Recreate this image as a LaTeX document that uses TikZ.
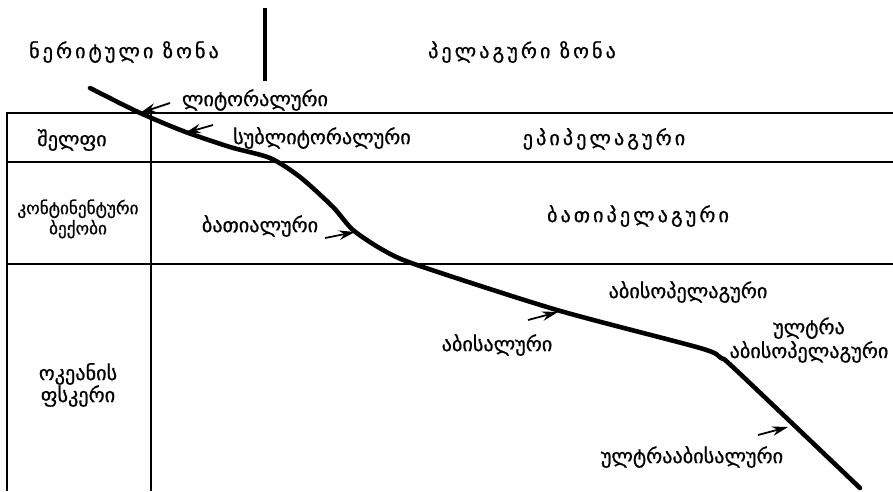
\documentclass[tikz,border=0pt]{standalone}
\usepackage{fontspec}
\newfontfamily\geofont[FakeBold=0.8]{DejaVu Sans}
\newfontfamily\geospaced[LetterSpace=15,FakeBold=0.8]{DejaVu Sans}
\usetikzlibrary{arrows.meta,positioning}

\begin{document}
\begin{tikzpicture}[
    x=0.2mm, y=-0.2mm,
    font=\geofont\fontsize{11.5}{12.5}\selectfont,
    grid/.style={line width=1.6pt},
    seafloor/.style={line width=2.6pt, line cap=round, line join=round},
    pointer/.style={-{Stealth[length=3.2mm,width=1.9mm]}, line width=1pt},
    lbl/.style={inner sep=0pt, align=center},
    wide/.style={lbl, font=\geospaced\fontsize{11.5}{12.5}\selectfont}
]
\useasboundingbox (0,0) rectangle (893,491);

\draw[grid] (893,113) -- (7,113) -- (7,491);
\draw[grid] (151,113) -- (151,491);
\draw[grid] (7,162) -- (893,162);
\draw[grid] (7,264) -- (893,264);
\draw[line width=2pt] (265,8) -- (265,81);

\draw[seafloor] plot[smooth, tension=0.45] coordinates {
    (90,88) (138,112) (183,131) (230,147) (270,158) (300,177) (333,207)
    (353,230) (383,250) (417,265) (557,310) (700,348) (721,358) (736,370)
    (860,488)};

\node[wide] (neritic) at (124,52) {ნერიტული ზონა};
\node[wide] (pelagic) at (522,52) {პელაგური ზონა};
\node[lbl] (littoral) at (255,100) {ლიტორალური};
\node[lbl] (shelf) at (72,140) {შელფი};
\node[lbl] (sublittoral) at (322,138) {სუბლიტორალური};
\node[wide] (epipelagic) at (604,139) {ეპიპელაგური};
\node[lbl, font=\geofont\fontsize{9.8}{9}\selectfont] (rise) at (78,219) {კონტინენტური\\ბექობი};
\node[lbl] (bathyal) at (260,226) {ბათიალური};
\node[wide] (bathypelagic) at (638,216) {ბათიპელაგური};
\node[lbl] (floor) at (78,385) {ოკეანის\\ფსკერი};
\node[lbl] (abyssopelagic) at (688,292) {აბისოპელაგური};
\node[lbl] (abyssal) at (497,345) {აბისალური};
\node[lbl, font=\geofont\fontsize{11.5}{13.6}\selectfont] (hadopelagic) at (809,340) {ულტრა\\აბისოპელაგური};
\node[lbl] (hadal) at (692,457) {ულტრააბისალური};

\coordinate (lit-a) at (170,103);
\coordinate (lit-b) at (140,113);
\coordinate (sub-a) at (213,125);
\coordinate (sub-b) at (185,133);
\coordinate (bat-a) at (325,238);
\coordinate (bat-b) at (355,232);
\coordinate (aby-a) at (528,320);
\coordinate (aby-b) at (558,312);
\coordinate (had-a) at (758,435);
\coordinate (had-b) at (788,427);

\draw[pointer] (lit-a) -- (lit-b);
\draw[pointer] (sub-a) -- (sub-b);
\draw[pointer] (bat-a) -- (bat-b);
\draw[pointer] (aby-a) -- (aby-b);
\draw[pointer] (had-a) -- (had-b);
\end{tikzpicture}
\end{document}
